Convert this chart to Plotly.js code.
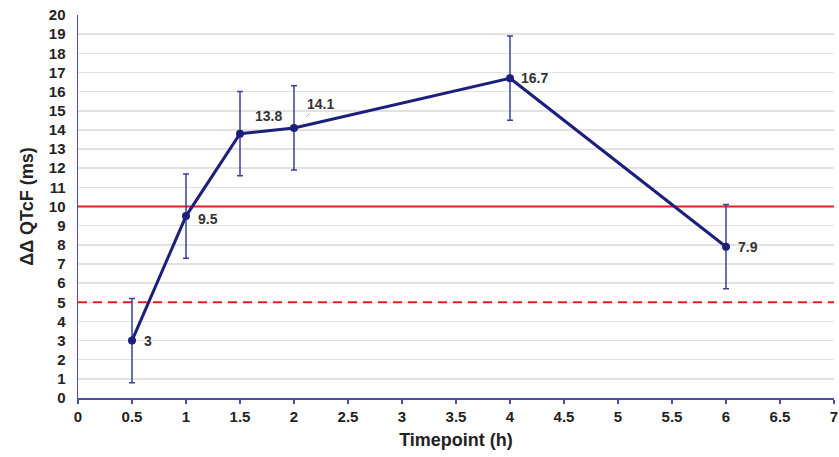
<!DOCTYPE html>
<html>
<head>
<meta charset="utf-8">
<script src="https://cdn.plot.ly/plotly-3.0.1.min.js"></script>
<style>html,body{margin:0;padding:0;background:#fff;}#chart{width:839px;height:457px;}</style>
</head>
<body>
<div id="chart"></div>
<script>
const timepoints = [0.5, 1, 1.5, 2, 4, 6];
const ddqtcf = [3, 9.5, 13.8, 14.1, 16.7, 7.9];
const errors = [2.2, 2.2, 2.2, 2.2, 2.2, 2.2];
const pointLabels = ["3", "9.5", "13.8", "14.1", "16.7", "7.9"];
const thresholdSolid = 10;
const thresholdDashed = 5;
const xTickVals = [0, 0.5, 1, 1.5, 2, 2.5, 3, 3.5, 4, 4.5, 5, 5.5, 6, 6.5, 7];
const yTickVals = Array.from({length: 21}, (_, i) => i);

const navy = '#1c1f7c';
const red = '#e0201e';
const font = 'Liberation Sans, Arial, sans-serif';

const traces = [
  {x: [0, 7], y: [thresholdSolid, thresholdSolid], mode: 'lines', line: {color: red, width: 2}, hoverinfo: 'skip', showlegend: false},
  {x: [0, 7], y: [thresholdDashed, thresholdDashed], mode: 'lines', line: {color: red, width: 2, dash: '9px,6px'}, hoverinfo: 'skip', showlegend: false},
  {
    x: timepoints, y: ddqtcf, mode: 'lines+markers',
    line: {color: navy, width: 3},
    marker: {color: navy, size: 8},
    error_y: {type: 'data', array: errors, visible: true, color: '#3a3f9c', thickness: 1.5, width: 3},
    showlegend: false
  }
];

const annotations = [];
const offsets = [
  {ax: 16, ay: 0, arrow: false},
  {ax: 22, ay: 3, arrow: false},
  {ax: 28, ay: -18, arrow: true},
  {ax: 26, ay: -24, arrow: true},
  {ax: 24, ay: 0, arrow: false},
  {ax: 22, ay: 0, arrow: false}
];
timepoints.forEach((t, i) => {
  const o = offsets[i];
  annotations.push({
    x: t, y: ddqtcf[i], xref: 'x', yref: 'y',
    text: '<b>' + pointLabels[i] + '</b>',
    showarrow: o.arrow,
    arrowhead: 0, arrowcolor: '#b8b8b8', arrowwidth: 1,
    standoff: o.arrow ? 16 : 0,
    ax: o.ax, ay: o.ay,
    xshift: o.arrow ? 0 : o.ax, yshift: o.arrow ? 0 : -o.ay,
    font: {family: font, size: 14, color: '#333'},
    xanchor: o.arrow ? 'auto' : 'center'
  });
});

const layout = {
  width: 839, height: 457,
  margin: {l: 78, r: 5, t: 15, b: 59},
  paper_bgcolor: '#fff', plot_bgcolor: '#fff',
  font: {family: font, color: '#222'},
  xaxis: {
    range: [0, 7], tickvals: xTickVals, ticktext: xTickVals.map(String),
    showgrid: false, zeroline: false,
    showline: true, linecolor: '#4a4fa8', linewidth: 1.5,
    ticks: 'outside', ticklen: 4, tickcolor: '#4a4fa8', tickwidth: 1.5,
    ticklabeloverflow: 'allow',
    tickfont: {family: font, size: 15, color: '#222', weight: 'bold'},
    title: {text: '<b>Timepoint (h)</b>', font: {family: font, size: 18, color: '#222'}, standoff: 10}
  },
  yaxis: {
    range: [0, 20], tickvals: yTickVals, ticktext: yTickVals.map(String),
    showgrid: true, gridcolor: '#e2e2e2', gridwidth: 1.5,
    zeroline: false, showline: true, linecolor: '#4a4fa8', linewidth: 1.5,
    ticks: '', ticklen: 0, ticklabelstandoff: 8,
    tickfont: {family: font, size: 15, color: '#222', weight: 'bold'},
    title: {text: '<b>ΔΔ QTcF (ms)</b>', font: {family: font, size: 18, color: '#222'}, standoff: 10}
  },
  annotations: annotations
};

Plotly.newPlot('chart', traces, layout, {displayModeBar: false, staticPlot: true});
</script>
</body>
</html>
